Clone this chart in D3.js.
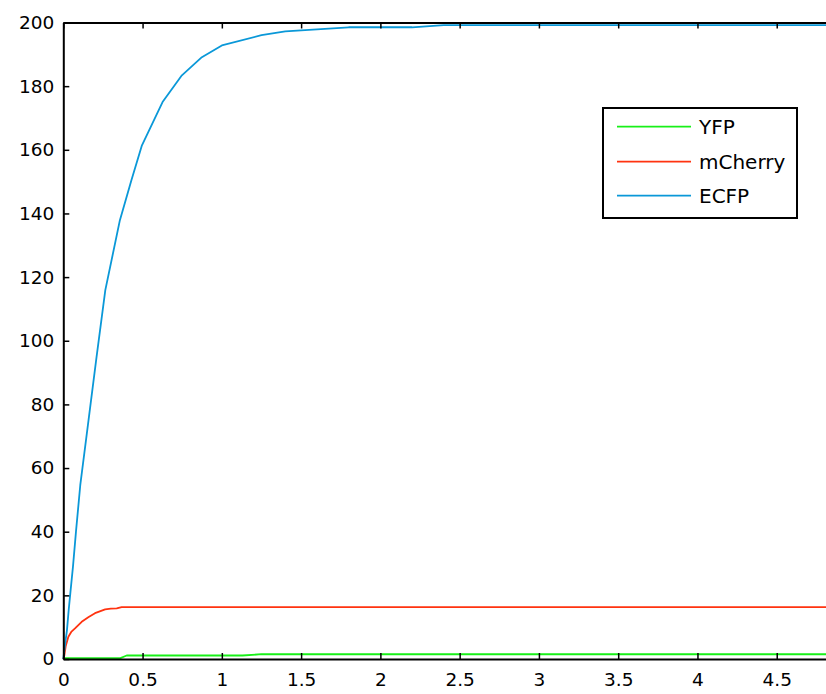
<!DOCTYPE html>
<html>
<head>
<meta charset="utf-8">
<script src="https://cdn.jsdelivr.net/npm/d3@7"></script>
<style>
  html, body { margin: 0; padding: 0; background: #fff; overflow: hidden; }
  svg { display: block; }
  text { font-family: "DejaVu Sans", sans-serif; fill: #000; }
</style>
</head>
<body>
<svg id="chart" width="826" height="694"></svg>
<script>
// ---- data ----
const seriesNames = ["YFP", "mCherry", "ECFP"];
const seriesColors = ["#18f018", "#ff3310", "#0a98d8"];

const yfpX = [0, 0.005, 0.36, 0.40, 1.13, 1.25, 5];
const yfpY = [0, 0.3, 0.3, 1.1, 1.1, 1.5, 1.5];

const mcherryX = [0, 0.006, 0.015, 0.032, 0.05, 0.074, 0.116, 0.16, 0.2, 0.264, 0.3, 0.337, 0.368, 5];
const mcherryY = [0, 1, 4, 7, 8.5, 9.6, 11.7, 13.2, 14.4, 15.6, 15.8, 15.9, 16.3, 16.3];

const ecfpX = [0, 0.012, 0.023, 0.034, 0.045, 0.061, 0.08, 0.107, 0.159, 0.21, 0.265, 0.357, 0.43, 0.496, 0.626, 0.748, 0.874, 1.0, 1.25, 1.4, 1.8, 2.2, 2.4, 5];
const ecfpY = [0, 5, 9, 15.4, 21, 29, 40, 54.6, 75, 95, 115.9, 137.9, 150.5, 161.4, 175, 183.4, 189.1, 192.8, 196, 197.2, 198.5, 198.5, 199.2, 199.2];

const xTicks = [0, 0.5, 1, 1.5, 2, 2.5, 3, 3.5, 4, 4.5];
const yTicks = [0, 20, 40, 60, 80, 100, 120, 140, 160, 180, 200];

// ---- layout ----
const mLeft = 63.3, mTop = 22.5, mBottom = 659, mRight = 856;
const svg = d3.select("#chart");

const x = d3.scaleLinear().domain([0, 5]).range([mLeft, mRight]);
const y = d3.scaleLinear().domain([0, 200]).range([mBottom, mTop]);

// ---- series ----
const series = [
  { name: seriesNames[0], color: seriesColors[0], xs: yfpX, ys: yfpY },
  { name: seriesNames[1], color: seriesColors[1], xs: mcherryX, ys: mcherryY },
  { name: seriesNames[2], color: seriesColors[2], xs: ecfpX, ys: ecfpY }
];

const line = d3.line().x(d => x(d[0])).y(d => y(d[1]));

svg.append("g").selectAll("path")
  .data(series)
  .join("path")
  .attr("fill", "none")
  .attr("stroke", d => d.color)
  .attr("stroke-width", 1.8)
  .attr("stroke-linejoin", "round")
  .attr("d", d => line(d.xs.map((v, i) => [v, d.ys[i]])));

// ---- axes ----
function styleAxis(g) {
  g.select(".domain").attr("stroke", "#000").attr("stroke-width", 2);
  g.selectAll(".tick line").attr("stroke", "#000").attr("stroke-width", 1.5);
}

const xAxis = svg.append("g")
  .attr("transform", `translate(0,${mBottom})`)
  .call(d3.axisBottom(x).tickValues(xTicks).tickSizeInner(-6).tickSizeOuter(0).tickPadding(14)
    .tickFormat(d3.format("")))
  .call(styleAxis);
xAxis.selectAll("text").attr("font-size", "18.5px").attr("font-family", "DejaVu Sans, sans-serif");

svg.append("g")
  .attr("transform", `translate(0,${mTop})`)
  .call(d3.axisTop(x).tickValues(xTicks).tickSizeInner(-6).tickSizeOuter(0).tickFormat(""))
  .call(styleAxis);

const yAxis = svg.append("g")
  .attr("transform", `translate(${mLeft},0)`)
  .call(d3.axisLeft(y).tickValues(yTicks).tickSizeInner(-6).tickSizeOuter(0).tickPadding(9))
  .call(styleAxis);
yAxis.selectAll("text").attr("font-size", "18.5px").attr("font-family", "DejaVu Sans, sans-serif");

svg.append("g")
  .attr("transform", `translate(${mRight},0)`)
  .call(d3.axisRight(y).tickValues(yTicks).tickSizeInner(-6).tickSizeOuter(0).tickFormat(""))
  .call(styleAxis);

// ---- legend ----
const legend = svg.append("g");
legend.append("rect")
  .attr("x", 603).attr("y", 108).attr("width", 194).attr("height", 110)
  .attr("fill", "#fff").attr("stroke", "#000").attr("stroke-width", 2);
const rowY = [126.7, 161.7, 195.7];
series.forEach((s, i) => {
  legend.append("line")
    .attr("x1", 617).attr("x2", 691)
    .attr("y1", rowY[i]).attr("y2", rowY[i])
    .attr("stroke", s.color).attr("stroke-width", 1.8);
  legend.append("text")
    .attr("x", 699).attr("y", rowY[i] + 7)
    .attr("font-size", "20px")
    .text(s.name);
});
</script>
</body>
</html>
